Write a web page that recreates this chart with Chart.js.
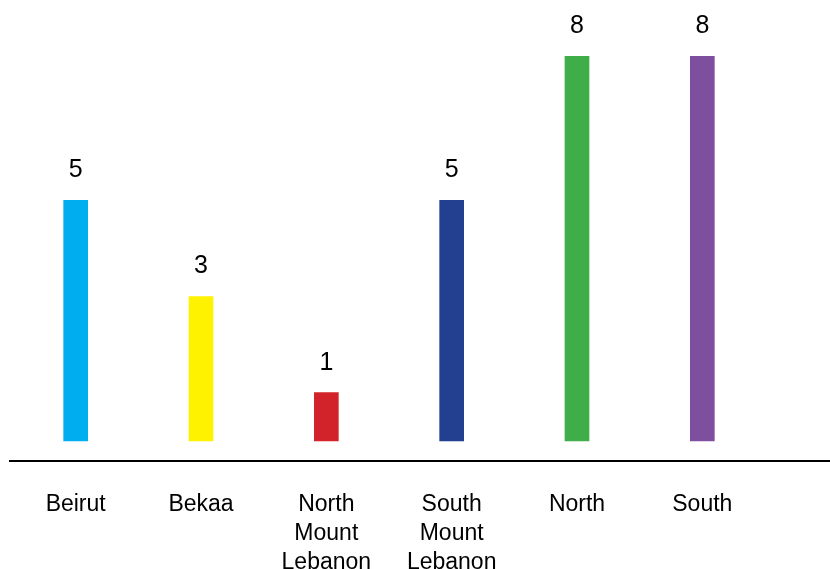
<!DOCTYPE html>
<html>
<head>
<meta charset="utf-8">
<script src="https://cdn.jsdelivr.net/npm/chart.js@4"></script>
<style>
  html, body { margin: 0; padding: 0; background: #fff; }
  #wrap { width: 830px; height: 569px; position: relative; }
</style>
</head>
<body>
<div id="wrap"><canvas id="myChart"></canvas></div>
<script>
var regions = [['Beirut'], ['Bekaa'], ['North', 'Mount', 'Lebanon'], ['South', 'Mount', 'Lebanon'], ['North'], ['South']];
var counts = [5, 3, 1, 5, 8, 8];
var barColors = ['#00AEEF', '#FFF200', '#D2232A', '#233F8F', '#3FAE49', '#7F4F9F'];

// numbers above each bar + long base line across the page
var labelPlugin = {
    id: 'valueLabels',
    afterDraw: function(chart) {
        var ctx = chart.ctx;
        var area = chart.chartArea;
        ctx.save();
        ctx.strokeStyle = '#000';
        ctx.lineWidth = 2;
        ctx.beginPath();
        ctx.moveTo(9, area.bottom);
        ctx.lineTo(chart.width, area.bottom);
        ctx.stroke();

        ctx.fillStyle = '#000';
        ctx.font = '25px "Liberation Sans", Arial, sans-serif';
        ctx.textAlign = 'center';
        ctx.textBaseline = 'alphabetic';
        var meta = chart.getDatasetMeta(0);
        meta.data.forEach(function(bar, i) {
            ctx.fillText(String(counts[i]), bar.x, bar.y - 23);
        });
        ctx.restore();
    }
};

var ctx = document.getElementById('myChart').getContext('2d');
var myChart = new Chart(ctx, {
    type: 'bar',
    data: {
        labels: regions,
        datasets: [{
            data: counts,
            backgroundColor: barColors,
            borderWidth: 0,
            barThickness: 24
        }]
    },
    options: {
        responsive: true,
        maintainAspectRatio: false,
        animation: false,
        layout: { padding: { top: 56, left: 13, right: 65, bottom: 0 } },
        plugins: {
            legend: { display: false },
            tooltip: { enabled: false }
        },
        scales: {
            x: {
                grid: { display: false, drawTicks: false },
                border: { display: false },
                ticks: {
                    color: '#000',
                    padding: 29,
                    maxRotation: 0,
                    autoSkip: false,
                    font: { family: '"Liberation Sans", Arial, sans-serif', size: 23, lineHeight: 1.26 }
                },
                afterFit: function(axis) { axis.height = 108; }
            },
            y: {
                display: false,
                min: -0.42,
                max: 8
            }
        }
    },
    plugins: [labelPlugin]
});
</script>
</body>
</html>
